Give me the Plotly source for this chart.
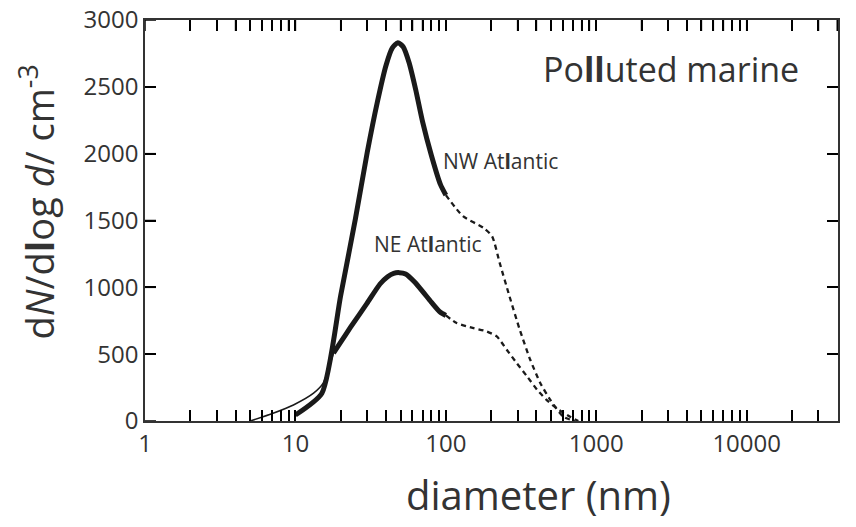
import plotly.graph_objects as go

# ---- data ----
nw_solid_d = [10, 15, 20, 25, 30, 35, 40, 44, 48, 52, 57, 63, 70, 80, 92, 100]
nw_solid_n = [45, 208, 940, 1507, 2008, 2383, 2660, 2790, 2830, 2800, 2680, 2480, 2240, 1990, 1770, 1690]

nw_dash_d = [100, 130, 178, 203, 228, 265, 310, 364, 425, 495, 604, 720]
nw_dash_n = [1690, 1532, 1445, 1382, 1183, 932, 683, 458, 283, 158, 32, 0]

ne_thin_d = [5, 7.1, 9.7, 13.2, 15.3, 17.9]
ne_thin_n = [0, 58, 120, 208, 283, 508]

ne_solid_d = [17.9, 20, 23.2, 29.9, 36.5, 41, 45, 49, 54, 62, 70, 80, 91.5, 100]
ne_solid_n = [508, 590, 700, 880, 1025, 1080, 1105, 1110, 1100, 1040, 970, 890, 815, 790]

ne_dash_d = [100, 118, 153, 187, 218, 254, 296, 347, 405, 467, 545, 670, 760]
ne_dash_n = [790, 733, 695, 670, 633, 533, 433, 333, 233, 158, 95, 32, 0]

x_major = [1, 10, 100, 1000, 10000]
x_major_labels = ["1", "10", "100", "1000", "10000"]
y_ticks = [0, 500, 1000, 1500, 2000, 2500, 3000]
y_range = [0, 3000]

# ---- ticks ----
x_tickvals, x_ticktext = [], []
for i, dec in enumerate(x_major):
    for m in range(1, 10):
        v = dec * m
        if v > 40000:
            break
        x_tickvals.append(v)
        x_ticktext.append(x_major_labels[i] if m == 1 else "")

INK = "#1a1a1a"
AX = "#333333"
FONT = "Open Sans"
TICKLEN = 11

fig = go.Figure()
fig.add_trace(go.Scatter(x=ne_thin_d, y=ne_thin_n, mode="lines",
                         line=dict(color=INK, width=1.6, shape="spline", smoothing=0.6)))
fig.add_trace(go.Scatter(x=nw_solid_d, y=nw_solid_n, mode="lines",
                         line=dict(color=INK, width=5, shape="spline", smoothing=0.6)))
fig.add_trace(go.Scatter(x=nw_dash_d, y=nw_dash_n, mode="lines",
                         line=dict(color=INK, width=2.3, dash="5px,4px", shape="spline", smoothing=0.6)))
fig.add_trace(go.Scatter(x=ne_solid_d, y=ne_solid_n, mode="lines",
                         line=dict(color=INK, width=5, shape="spline", smoothing=0.6)))
fig.add_trace(go.Scatter(x=ne_dash_d, y=ne_dash_n, mode="lines",
                         line=dict(color=INK, width=2.3, dash="5px,4px", shape="spline", smoothing=0.6)))

fig.update_layout(
    xaxis=dict(type="log", range=[0, 4.607], tickmode="array",
               tickvals=x_tickvals, ticktext=x_ticktext, automargin=False,
               showline=True, linecolor=AX, linewidth=1.6, mirror="ticks",
               ticks="inside", ticklen=TICKLEN, tickwidth=1.5, tickcolor="black",
               showgrid=False, zeroline=False,
               tickfont=dict(family=FONT, size=24, color=AX)),
    yaxis=dict(range=y_range, tickmode="array", tickvals=y_ticks,
               ticktext=[str(v) for v in y_ticks], automargin=False,
               showline=True, linecolor=AX, linewidth=1.6, mirror="ticks",
               ticks="inside", ticklen=TICKLEN, tickwidth=1.5, tickcolor="black",
               showgrid=False, zeroline=False,
               tickfont=dict(family=FONT, size=24, color=AX)),
)

# inside tick marks on the top and left spines, placed at the axis tick values
tick_line = dict(color="black", width=1.5)
for v in x_tickvals:
    fig.add_shape(type="line", xref="x", yref="paper", x0=v, x1=v,
                  ysizemode="pixel", yanchor=1, y0=0, y1=-TICKLEN,
                  line=tick_line, layer="above")
for v in y_ticks:
    fig.add_shape(type="line", xref="x", yref="y", y0=v, y1=v,
                  xsizemode="pixel", xanchor=x_major[0], x0=0, x1=TICKLEN,
                  line=tick_line, layer="above")

ann_font = dict(family=FONT, color=AX)
fig.add_annotation(x=2.635, y=2632, xref="x", yref="y", xanchor="left", yanchor="middle",
                   text="Po<b>ll</b>uted marine", showarrow=False,
                   font=dict(size=34, **ann_font))
fig.add_annotation(x=1.966, y=1942, xref="x", yref="y", xanchor="left", yanchor="middle",
                   text="NW At<b>l</b>antic", showarrow=False,
                   font=dict(size=21, **ann_font))
fig.add_annotation(x=1.51, y=1327, xref="x", yref="y", xanchor="left", yanchor="middle",
                   text="NE At<b>l</b>antic", showarrow=False,
                   font=dict(size=21, **ann_font))
fig.add_annotation(x=0.5685, y=-0.1845, xref="paper", yref="paper", xanchor="center",
                   yanchor="middle", text="diameter (nm)", showarrow=False,
                   font=dict(size=40, **ann_font))
fig.add_annotation(x=-0.1558, y=0.545, xref="paper", yref="paper", xanchor="center",
                   yanchor="middle", textangle=-90,
                   text="d<i>N</i>/d<b>l</b>og <i>d</i>/ cm<sup>-3</sup>", showarrow=False,
                   font=dict(size=38, **ann_font))

fig.update_layout(width=856, height=527, margin=dict(l=145, r=18, t=20, b=106),
                  plot_bgcolor="white", paper_bgcolor="white", showlegend=False)

fig.write_html("out.html")
